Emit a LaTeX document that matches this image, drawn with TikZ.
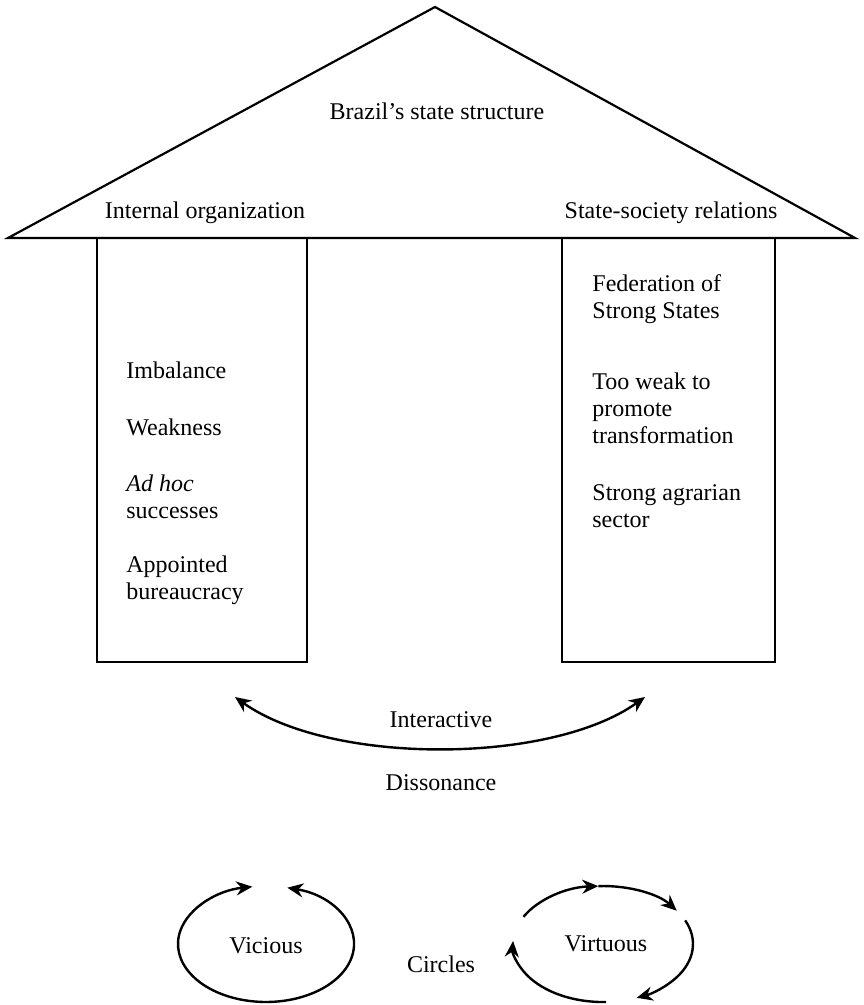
\documentclass[tikz,border=0pt]{standalone}
\usepackage{fontspec}
\setmainfont{Liberation Serif}
\usetikzlibrary{arrows.meta, positioning}

\begin{document}
\begin{tikzpicture}[x=0.5pt, y=-0.5pt,
        every node/.style={font=\fontsize{12}{13.5}\selectfont, inner sep=0pt},
        pillar/.style={draw, line width=0.9pt, minimum height=212pt},
        item/.style={anchor=west, align=left},
        ring/.style={line width=1.2pt},
        arr/.style={-{Stealth[length=8pt,width=7pt]}},
        arrs/.style={{Stealth[length=8pt,width=7pt]}-{Stealth[length=8pt,width=7pt]}}]
        \useasboundingbox (0,0) rectangle (863,1005);
        % roof
        \coordinate (apex) at (435,7);
        \coordinate (eaveL) at (8,238);
        \coordinate (eaveR) at (855,238);
        \draw[line width=1.1pt, line join=miter] (eaveL) -- (apex) -- (eaveR) -- cycle;
        \node (title) at (437,111) {Brazil's state structure};
        \node (inorg) at (205,213) {Internal organization};
        \node (ssrel) at (671,213) {State-society relations};
        % pillars
        \node[pillar, minimum width=105pt] (left) at (202,450) {};
        \node[pillar, minimum width=106.5pt] (right) at (668.5,450) {};
        \node[item] (imb) at (126,370) {Imbalance};
        \node[item] (weak) at (126,427) {Weakness};
        \node[item] (adhoc) at (126,497) {\textit{Ad hoc}\\successes};
        \node[item] (appt) at (126,580) {Appointed\\bureaucracy};
        \node[item] (fed) at (592,299) {Federation of\\Strong States};
        \node[item] (tooweak) at (592,408) {Too weak to\\promote\\transformation};
        \node[item] (agr) at (592,506) {Strong agrarian\\sector};
        % interaction
        \node (inter) at (441,720) {Interactive};
        \node (diss) at (441,783) {Dissonance};
        \coordinate (int_l) at (235,697);
        \coordinate (int_r) at (645,697);
        \draw[ring, arrs] (int_l) .. controls (330,765) and (550,765) .. (int_r);
        % circles
        \node (vic) at (266,946) {Vicious};
        \node (circ) at (441,964) {Circles};
        \node (virt) at (606,944) {Virtuous};
        \coordinate (vic_a) at (287.3,887.7);
        \draw[ring, arrs] (vic_a) arc[start angle=-76, end angle=261, x radius=88, y radius=58];
        \coordinate (virt_a) at (523.5,916.8);
        \coordinate (virt_b) at (598.3,886.1);
        \coordinate (virt_c) at (685.2,920.4);
        \coordinate (virt_d) at (606.1,1002.0);
        \draw[ring, arr] (virt_a) arc[start angle=208, end angle=267, x radius=90, y radius=58];
        \draw[ring, arr] (virt_b) arc[start angle=267, end angle=325, x radius=90, y radius=58];
        \draw[ring, arr] (virt_c) arc[start angle=-24, end angle=68, x radius=90, y radius=58];
        \draw[ring, arr] (virt_d) arc[start angle=88, end angle=183, x radius=90, y radius=58];
    \end{tikzpicture}
\end{document}
